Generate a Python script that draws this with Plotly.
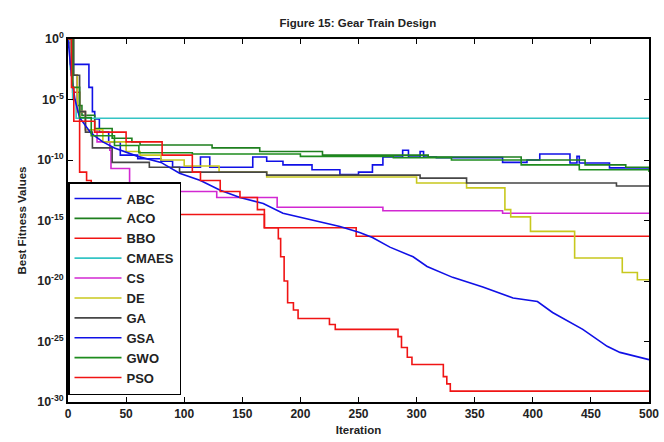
import plotly.graph_objects as go

# Convergence curves: (iteration, log10 best fitness) knots
names = ["ABC", "ACO", "BBO", "CMAES", "CS", "DE", "GA", "GSA", "GWO", "PSO"]
colors = ["#1010E6", "#1E7F1E", "#F01414", "#34C4C4", "#D228D2",
          "#C8C81E", "#464646", "#1010E6", "#1E8C1E", "#F01414"]

abc_it = [0, 2, 14, 18, 21, 23, 27, 35, 45, 60, 80, 90, 114, 122, 159, 171, 185, 210, 234, 250, 262, 271, 288, 293, 303, 306, 317, 374, 395, 406, 432, 438, 440, 466, 500]
abc_lg = [-0.3, -2.1, -2.1, -4.0, -6.0, -6.6, -7.7, -8.5, -9.6, -9.9, -10.1, -10.6, -9.75, -10.6, -9.75, -10.1, -10.4, -10.8, -11.2, -11.0, -10.4, -9.75, -9.2, -9.75, -9.3, -9.75, -9.8, -10.2, -10.0, -9.5, -10.25, -9.7, -10.25, -10.65, -10.65]

aco_it = [0, 3, 8, 12, 23, 38, 55, 62, 124, 165, 219, 310, 390, 445, 480, 500]
aco_lg = [0.0, -3.0, -5.5, -6.3, -7.4, -8.2, -8.5, -8.76, -9.0, -9.3, -9.6, -9.75, -10.0, -10.4, -10.6, -10.7]

bbo_it = [0, 2, 4, 10, 16, 20, 167, 169, 245, 248, 500]
bbo_lg = [0.0, -2.0, -4.4, -11.0, -11.7, -14.5, -14.5, -15.6, -15.6, -16.3, -16.3]

cmaes_it = [0, 2, 4, 7, 500]
cmaes_lg = [0.0, -2.5, -5.0, -6.55, -6.55]

cs_it = [0, 3, 8, 15, 25, 36, 37, 51, 53, 128, 180, 271, 374, 500]
cs_lg = [0.0, -3.0, -6.0, -7.5, -8.5, -9.2, -10.7, -10.7, -12.6, -13.1, -13.9, -14.2, -14.4, -14.4]

de_it = [0, 3, 8, 15, 30, 50, 62, 80, 100, 130, 171, 300, 343, 376, 381, 398, 436, 477, 490, 500]
de_lg = [0.0, -3.0, -6.0, -7.5, -8.5, -9.3, -9.6, -10.0, -10.5, -11.0, -11.4, -11.9, -12.3, -14.1, -14.7, -15.9, -18.1, -19.3, -19.9, -19.9]

ga_it = [0, 5, 10, 15, 21, 35, 38, 70, 96, 171, 303, 343, 472, 500]
ga_lg = [0.0, -3.0, -6.0, -7.7, -9.0, -9.0, -10.2, -10.6, -11.0, -11.25, -11.5, -11.9, -12.15, -12.15]

gsa_it = [0, 3, 6, 10, 20, 30, 40, 60, 80, 96, 114, 131, 148, 168, 185, 211, 234, 251, 262, 277, 297, 309, 331, 357, 383, 404, 417, 443, 464, 475, 500]
gsa_lg = [0.0, -3.0, -5.0, -6.5, -7.8, -8.5, -9.0, -9.7, -10.2, -11.1, -11.7, -12.5, -13.1, -13.6, -14.4, -15.0, -15.5, -16.0, -16.4, -17.2, -18.0, -18.8, -19.7, -20.5, -21.4, -21.7, -22.6, -24.0, -25.4, -25.9, -26.5]

gwo_it = [0, 4, 10, 20, 40, 61, 107, 200, 280, 330, 390, 440, 500]
gwo_lg = [0.0, -4.0, -6.5, -8.0, -8.8, -9.4, -9.5, -9.7, -9.8, -10.0, -10.4, -10.8, -11.0]

pso_it = [0, 3, 5, 23, 50, 81, 107, 114, 131, 148, 163, 169, 181, 183, 186, 189, 194, 198, 225, 230, 284, 287, 292, 296, 300, 323, 326, 329, 331, 500]
pso_lg = [0.0, -4.0, -6.8, -7.7, -8.5, -9.6, -11.0, -11.7, -12.6, -13.1, -14.1, -15.6, -16.5, -18.0, -20.0, -21.8, -22.4, -23.1, -23.6, -24.0, -24.6, -25.5, -26.3, -26.9, -26.9, -27.9, -28.5, -29.1, -29.1, -29.1]

series_it = [abc_it, aco_it, bbo_it, cmaes_it, cs_it, de_it, ga_it, gsa_it, gwo_it, pso_it]
series_lg = [abc_lg, aco_lg, bbo_lg, cmaes_lg, cs_lg, de_lg, ga_lg, gsa_lg, gwo_lg, pso_lg]
shapes = ["hv", "hv", "hv", "hv", "hv", "hv", "hv", "linear", "hv", "hv"]

y_tickvals = [1e0, 1e-5, 1e-10, 1e-15, 1e-20, 1e-25, 1e-30]
y_ticktext = ["10<sup>0</sup>", "10<sup>-5</sup>", "10<sup>-10</sup>", "10<sup>-15</sup>",
              "10<sup>-20</sup>", "10<sup>-25</sup>", "10<sup>-30</sup>"]
x_tickvals = [0, 50, 100, 150, 200, 250, 300, 350, 400, 450, 500]

FONT = "Liberation Sans"

fig = go.Figure()
for i, name in enumerate(names):
    fig.add_trace(go.Scatter(
        x=series_it[i], y=[10 ** v for v in series_lg[i]],
        mode="lines", name=name, legendgroup=name,
        line=dict(color=colors[i], width=1.6, shape=shapes[i]),
    ))

fig.update_layout(
    width=664, height=442,
    margin=dict(l=68, r=15, t=39, b=40),
    paper_bgcolor="white", plot_bgcolor="white",
    font=dict(family=FONT, size=11, color="#222"),
    title=dict(text="<b>Figure 15: Gear Train Design</b>", x=0.539, xanchor="center",
               y=0.948, yanchor="middle", font=dict(family=FONT, size=11.5, color="#222")),
    showlegend=True,
    legend=dict(x=0, y=0.606, xanchor="left", yanchor="top",
                bgcolor="white", bordercolor="black", borderwidth=1.5,
                font=dict(family=FONT, size=13, color="#222", weight="bold"),
                tracegroupgap=3.9, itemwidth=47,
                traceorder="normal"),
)
fig.update_xaxes(range=[0, 500], tickvals=x_tickvals, ticks="inside", ticklen=5,
                 tickwidth=1, tickcolor="black", mirror="ticks", showline=True,
                 linecolor="black", linewidth=1.5, showgrid=False, zeroline=False,
                 automargin=False,
                 tickfont=dict(family=FONT, size=12, weight="bold"),
                 title=dict(text="Iteration", standoff=6,
                            font=dict(family=FONT, size=11.5, weight="bold")))
fig.update_yaxes(type="log", range=[-30, 0], tickvals=y_tickvals, ticktext=y_ticktext,
                 ticks="inside", ticklen=5, tickwidth=1, tickcolor="black",
                 mirror="ticks", showline=True, linecolor="black", linewidth=1.5,
                 showgrid=False, zeroline=False, automargin=False,
                 tickfont=dict(family=FONT, size=12.5, weight="bold"),
                 title=dict(text="Best Fitness Values", standoff=8,
                            font=dict(family=FONT, size=11.5, weight="bold")))

fig.write_html("out.html")
